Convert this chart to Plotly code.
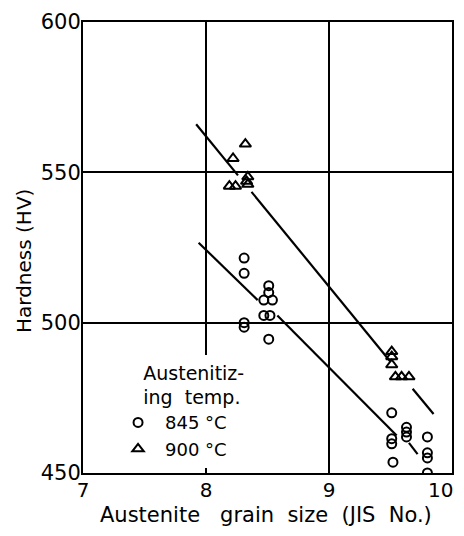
import plotly.graph_objects as go

# 845 °C (open circles)
c845_x = [8.31, 8.31, 8.31, 8.31, 8.51, 8.51, 8.47, 8.54, 8.47, 8.52, 8.51,
          9.51, 9.51, 9.51, 9.52, 9.63, 9.63, 9.63, 9.80, 9.80, 9.80, 9.80]
c845_y = [521.5, 516.4, 500.0, 498.5, 512.3, 510.0, 507.5, 507.5, 502.4, 502.4, 494.5,
          470.0, 461.4, 459.7, 453.6, 465.2, 463.6, 462.0, 462.0, 456.7, 455.0, 450.0]
# 900 °C (open triangles)
t900_x = [8.32, 8.22, 8.19, 8.24, 8.33, 8.34, 8.34,
          9.51, 9.51, 9.51, 9.54, 9.59, 9.65]
t900_y = [559.4, 554.6, 545.4, 545.4, 547.0, 548.5, 546.0,
          490.4, 488.7, 486.0, 482.0, 482.0, 482.0]

# fitted lines (segments, None = gap)
up_x = [7.92, 8.26, None, 8.37, 9.50, None, 9.68, 9.85]
up_y = [566.0, 549.0, None, 543.5, 487.0, None, 478.0, 469.6]
lo_x = [7.94, 8.42, None, 8.58, 9.55, None, 9.65, 9.72]
lo_y = [526.6, 507.5, None, 502.4, 462.5, None, 460.0, 456.3]

x_ticks = [7, 8, 9, 10]
x_labels = ["7", "8", "9", "10"]
y_ticks = [450, 500, 550, 600]
y_labels = ["450", "500", "550", "600"]

FONT = "DejaVu Sans, Liberation Sans, sans-serif"
SP = "\u00a0" * 5

fig = go.Figure()
fig.add_trace(go.Scatter(x=up_x, y=up_y, mode="lines", line=dict(color="black", width=2.2),
                         showlegend=False, hoverinfo="skip"))
fig.add_trace(go.Scatter(x=lo_x, y=lo_y, mode="lines", line=dict(color="black", width=2.2),
                         showlegend=False, hoverinfo="skip"))
fig.add_trace(go.Scatter(x=c845_x, y=c845_y, mode="markers", name="845 °C",
                         marker=dict(symbol="circle-open", size=9, color="black",
                                     line=dict(width=2, color="black"))))
fig.add_trace(go.Scatter(x=t900_x, y=t900_y, mode="markers", name="900 °C",
                         marker=dict(symbol="triangle-up-open", size=10, color="black",
                                     line=dict(width=2, color="black"))))

# last x tick label sits at the right edge: draw it right-aligned so it stays inside the page
last_label = dict(text=x_labels[-1], x=x_ticks[-1], xref="x", y=0, yref="paper",
                  xanchor="right", yanchor="top", xshift=3, yshift=-3, showarrow=False,
                  font=dict(size=20, family=FONT))

fig.update_layout(
    width=448, height=520,
    margin=dict(l=75, r=4, t=14, b=55, autoexpand=False),
    paper_bgcolor="white", plot_bgcolor="white",
    font=dict(family=FONT, color="black"),
    legend=dict(
        x=0.076, y=0.262, xanchor="left", yanchor="top",
        bgcolor="white", borderwidth=0,
        title=dict(text=SP + "Austenitiz-<br>" + SP + "ing  temp.", font=dict(size=19, family=FONT)),
        font=dict(size=18, family=FONT),
        itemwidth=44, tracegroupgap=0,
    ),
    xaxis=dict(
        range=[7, 10], tickvals=x_ticks[:-1], ticktext=x_labels[:-1],
        showgrid=True, gridcolor="black", gridwidth=2,
        showline=True, linecolor="black", linewidth=2, mirror=True,
        ticks="", zeroline=False, automargin=False, ticklabeloverflow="allow",
        tickfont=dict(size=20, family=FONT), ticklabelstandoff=-2,
    ),
    yaxis=dict(
        range=[450, 600], tickvals=y_ticks, ticktext=y_labels,
        showgrid=True, gridcolor="black", gridwidth=2,
        showline=True, linecolor="black", linewidth=2, mirror=True,
        ticks="", zeroline=False, automargin=False, ticklabeloverflow="allow",
        tickfont=dict(size=21, family=FONT), ticklabelstandoff=-4,
    ),
    annotations=[
        last_label,
        dict(text="Austenite   grain  size  (JIS  No.)", xref="paper", yref="paper",
             x=0.495, y=-0.0931, xanchor="center", yanchor="middle", showarrow=False,
             font=dict(size=21, family=FONT)),
        dict(text="Hardness (HV)", xref="paper", yref="paper", textangle=-90,
             x=-0.16, y=0.47, xanchor="center", yanchor="middle", showarrow=False,
             font=dict(size=20, family=FONT)),
    ],
)

fig.write_html("out.html")
